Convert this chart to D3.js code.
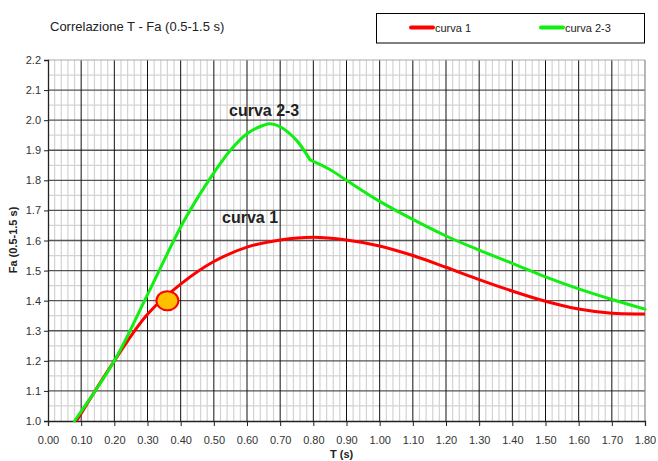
<!DOCTYPE html>
<html>
<head>
<meta charset="utf-8">
<script src="https://cdn.jsdelivr.net/npm/d3@7"></script>
<style>
  html, body { margin: 0; padding: 0; background: #fff; }
  svg { display: block; font-family: "Liberation Sans", Arial, sans-serif; }
</style>
</head>
<body>
<svg id="chart" width="658" height="461"></svg>
<script>
// Curve 1: period T (s) and amplification factor Fa
const curve1T  = [0.086, 0.20, 0.30, 0.40, 0.50, 0.60, 0.70, 0.80, 0.90, 1.00, 1.10, 1.20, 1.30, 1.40, 1.50, 1.60, 1.70, 1.80];
const curve1Fa = [1.00, 1.20, 1.355, 1.455, 1.530, 1.578, 1.602, 1.611, 1.602, 1.582, 1.550, 1.511, 1.470, 1.432, 1.398, 1.372, 1.358, 1.356];

// Curve 2-3 (has a slope break at T = 0.79 s)
const curve23T  = [0.08, 0.20, 0.30, 0.40, 0.45, 0.50, 0.55, 0.60, 0.65, 0.67, 0.70, 0.75, 0.79, 0.85, 0.90, 1.00, 1.10, 1.20, 1.30, 1.40, 1.50, 1.60, 1.70, 1.80];
const curve23Fa = [1.00, 1.20, 1.42, 1.645, 1.74, 1.825, 1.90, 1.955, 1.983, 1.988, 1.978, 1.932, 1.868, 1.836, 1.80, 1.730, 1.670, 1.615, 1.568, 1.524, 1.479, 1.439, 1.404, 1.372];
const curve23BreakT = 0.79;

// Highlighted point
const markerT  = [0.36];
const markerFa = [1.40];

const seriesNames = ["curva 1", "curva 2-3"];
const xTicks = d3.range(0, 19).map(i => i / 10);
const yTicks = d3.range(0, 13).map(i => 1 + i / 10);

const svg = d3.select("#chart");
const x = d3.scaleLinear().domain([0, 1.8]).range([48, 645]);
const y = d3.scaleLinear().domain([1.0, 2.2]).range([421, 60]);

const grid = svg.append("g");
// minor grid: every 0.02 s horizontally, every 0.05 vertically
const xMinor = d3.range(0, 91).map(i => i / 50).filter(v => Math.round(v * 50) % 5 !== 0);
const yMinor = d3.range(0, 25).map(i => 1 + i / 20).filter(v => Math.round(v * 20) % 2 !== 0);
grid.selectAll(".vmin").data(xMinor).join("line")
  .attr("x1", d => x(d)).attr("x2", d => x(d)).attr("y1", y(2.2)).attr("y2", y(1.0))
  .attr("stroke", "#d3d3d3").attr("stroke-width", 1.2);
grid.selectAll(".hmin").data(yMinor).join("line")
  .attr("x1", x(0)).attr("x2", x(1.8)).attr("y1", d => y(d)).attr("y2", d => y(d))
  .attr("stroke", "#d3d3d3").attr("stroke-width", 1.2);
// major grid
grid.selectAll(".hmaj").data(yTicks.slice(1, -1)).join("line")
  .attr("x1", x(0)).attr("x2", x(1.8)).attr("y1", d => y(d)).attr("y2", d => y(d))
  .attr("stroke", "#555").attr("stroke-width", 1.3);
grid.selectAll(".vmaj").data(xTicks.slice(1, -1)).join("line")
  .attr("x1", d => x(d)).attr("x2", d => x(d)).attr("y1", y(2.2)).attr("y2", y(1.0))
  .attr("stroke", "#111").attr("stroke-width", 1);
// plot frame top/right
grid.append("line").attr("x1", x(0)).attr("x2", x(1.8)).attr("y1", y(2.2)).attr("y2", y(2.2))
  .attr("stroke", "#aaa").attr("stroke-width", 1.2);
grid.append("line").attr("x1", x(1.8)).attr("x2", x(1.8)).attr("y1", y(2.2)).attr("y2", y(1.0))
  .attr("stroke", "#888").attr("stroke-width", 1.2);

// axes
const xAxis = d3.axisBottom(x).tickValues(xTicks).tickFormat(d3.format(".2f")).tickSize(5).tickPadding(10);
const yAxis = d3.axisLeft(y).tickValues(yTicks).tickFormat(d3.format(".1f")).tickSize(4).tickPadding(3);
const gx = svg.append("g").attr("transform", `translate(0,${y(1.0)})`).call(xAxis);
const gy = svg.append("g").attr("transform", `translate(${x(0)},0)`).call(yAxis);
[gx, gy].forEach(g => {
  g.select(".domain").attr("stroke", "#222").attr("stroke-width", 1.3);
  g.selectAll(".tick line").attr("stroke", "#222");
  g.selectAll(".tick text").attr("font-size", 11).attr("fill", "#333")
    .attr("font-family", "'Liberation Sans', Arial, sans-serif");
});

// curves
const line = d3.line().x(d => x(d[0])).y(d => y(d[1])).curve(d3.curveCatmullRom.alpha(0.5));
const c1 = curve1T.map((t, i) => [t, curve1Fa[i]]);
const c23 = curve23T.map((t, i) => [t, curve23Fa[i]]);
const c23a = c23.filter(d => d[0] <= curve23BreakT);
const c23b = c23.filter(d => d[0] >= curve23BreakT);
svg.append("path").datum(c1).attr("d", line)
  .attr("fill", "none").attr("stroke", "#ff0000").attr("stroke-width", 3).attr("stroke-linejoin", "round");
svg.append("path").attr("d", line(c23a) + line(c23b))
  .attr("fill", "none").attr("stroke", "#11ee11").attr("stroke-width", 3)
  .attr("stroke-linejoin", "round").attr("stroke-linecap", "round");

// marker
svg.selectAll(".marker").data(markerT.map((t, i) => [t, markerFa[i]])).join("ellipse")
  .attr("cx", d => x(d[0])).attr("cy", d => y(d[1])).attr("rx", 11).attr("ry", 9.5)
  .attr("fill", "#ffc000").attr("stroke", "#ff0000").attr("stroke-width", 2);

// curve labels
svg.append("text").attr("x", 229).attr("y", 116).attr("font-size", 16).attr("font-weight", "bold")
  .attr("fill", "#222").text(seriesNames[1]);
svg.append("text").attr("x", 222).attr("y", 223).attr("font-size", 16).attr("font-weight", "bold")
  .attr("fill", "#222").text(seriesNames[0]);

// title and axis titles
svg.append("text").attr("x", 50).attr("y", 31).attr("font-size", 13).attr("fill", "#222")
  .text("Correlazione T - Fa (0.5-1.5 s)");
svg.append("text").attr("x", 330).attr("y", 458).attr("font-size", 11).attr("font-weight", "bold")
  .attr("fill", "#222").text("T (s)");
svg.append("text").attr("transform", "translate(17,240) rotate(-90)").attr("text-anchor", "middle")
  .attr("font-size", 11).attr("font-weight", "bold").attr("fill", "#222").text("Fa (0.5-1.5 s)");

// legend
const legend = svg.append("g");
legend.append("rect").attr("x", 376.5).attr("y", 13.5).attr("width", 268).attr("height", 29.5)
  .attr("fill", "#fff").attr("stroke", "#000").attr("stroke-width", 1);
const legendColors = ["#ff0000", "#11ee11"];
const legendX = [411, 541];
seriesNames.forEach((name, i) => {
  legend.append("line").attr("x1", legendX[i]).attr("x2", legendX[i] + 22).attr("y1", 27.5).attr("y2", 27.5)
    .attr("stroke", legendColors[i]).attr("stroke-width", 4).attr("stroke-linecap", "round");
  legend.append("text").attr("x", legendX[i] + 24).attr("y", 32).attr("font-size", 11)
    .attr("fill", "#222").text(name);
});
</script>
</body>
</html>
